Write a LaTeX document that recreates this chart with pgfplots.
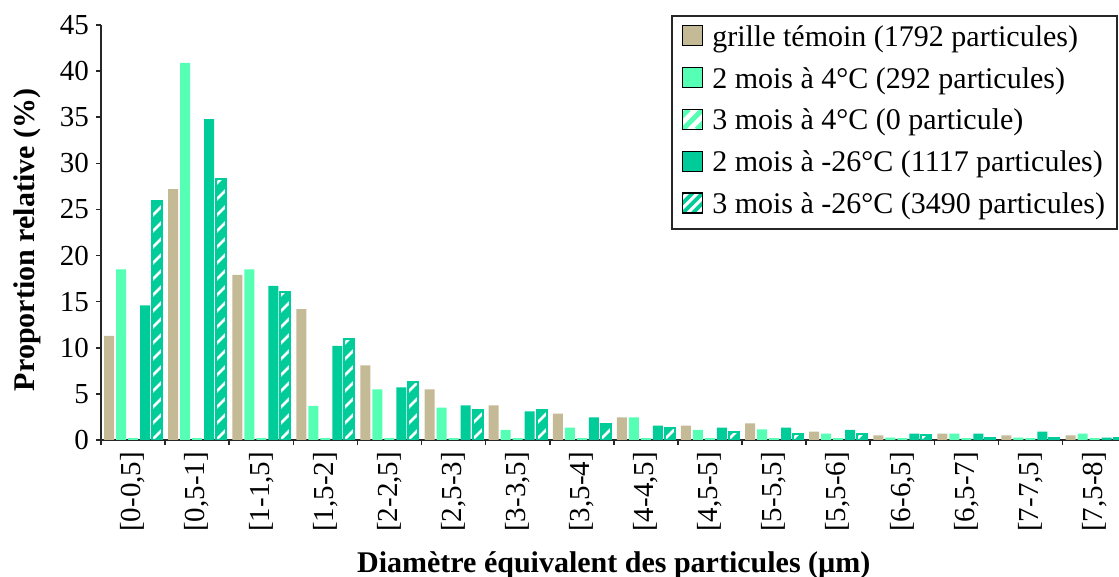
\documentclass[border=0pt]{standalone}
\usepackage{fontspec}
\setmainfont{Liberation Serif}
\usepackage{pgfplots}
\usepackage{pgfplotstable}
\pgfplotsset{compat=1.18}
\definecolor{tanc}{RGB}{196,186,150}
\definecolor{lgreen}{RGB}{85,255,180}
\definecolor{dgreen}{RGB}{0,204,153}

\pgfplotstableread{
x  t     l     z    d     h
0  11.3  18.5  0.2  14.6  25.9
1  27.2  40.9  0.2  34.8  28.3
2  17.9  18.5  0.2  16.7  16.1
3  14.2  3.7   0.2  10.2  10.9
4  8.1   5.5   0.2  5.7   6.3
5  5.5   3.5   0.2  3.75  3.25
6  3.75  1.1   0.2  3.1   3.3
7  2.85  1.35  0.2  2.45  1.75
8  2.45  2.45  0.2  1.55  1.35
9  1.55  1.1   0.2  1.35  0.9
10 1.8   1.15  0.2  1.35  0.7
11 0.9   0.7   0.2  1.1   0.7
12 0.5   0.25  0.2  0.7   0.5
13 0.7   0.7   0.2  0.7   0.25
14 0.5   0.25  0.2  0.9   0.25
15 0.5   0.7   0.2  0.25  0.25
}\data

\tikzset{
  hatchbar/.style={path picture={
    \pgfpointanchor{path picture bounding box}{south west}%
    \pgfgetlastxy{\hx}{\hy}%
    \pgfsetstrokecolor{white}\pgfsetlinewidth{1.3pt}%
    \foreach \k in {-560,-552,...,160} {%
      \pgfpathmoveto{\pgfpoint{\hx}{\hy+\k*1pt}}%
      \pgfpathlineto{\pgfpoint{\hx+560pt}{\hy+\k*1pt+560pt}}%
      \pgfusepath{stroke}%
    }}},
}
% legend swatch: white square with diagonal stripes of colour #1, width #2, spacing #3
\newcommand\legstripes[3]{%
  \pgfsetfillcolor{white}%
  \pgfpathrectangle{\pgfpoint{0pt}{-3.5pt}}{\pgfpoint{10pt}{10pt}}\pgfusepath{fill}%
  \begin{pgfscope}%
  \pgfpathrectangle{\pgfpoint{0pt}{-3.5pt}}{\pgfpoint{10pt}{10pt}}\pgfusepath{clip}%
  \pgfsetstrokecolor{#1}\pgfsetlinewidth{#2}%
  \foreach \k in {-3,...,3} {%
    \pgfpathmoveto{\pgfpoint{\k*#3}{-3.5pt}}%
    \pgfpathlineto{\pgfpoint{\k*#3+10pt}{6.5pt}}%
    \pgfusepath{stroke}}%
  \end{pgfscope}%
  \pgfsetstrokecolor{black}\pgfsetlinewidth{0.6pt}%
  \pgfpathrectangle{\pgfpoint{0pt}{-3.5pt}}{\pgfpoint{10pt}{10pt}}\pgfusepath{stroke}}

\begin{document}
\begin{tikzpicture}
\path[use as bounding box] (0,0) rectangle (559.5pt,288.5pt);
\begin{axis}[
  at={(50.5pt,68.5pt)}, anchor=south west,
  width=512.8pt, height=207.5pt, scale only axis,
  xmin=-0.5, xmax=15.5, ymin=0, ymax=45,
  axis x line=bottom, axis y line=left,
  axis line style={-, line width=0.9pt, black!85},
  tick align=outside, major tick length=2.5pt,
  tick style={line width=0.8pt, black!85},
  xtick={-0.5,0.5,...,15.5},
  x tick label as interval,
  xticklabels={{[0-0,5]},{[0,5-1]},{[1-1,5]},{[1,5-2]},{[2-2,5]},{[2,5-3]},{[3-3,5]},{[3,5-4]},{[4-4,5]},{[4,5-5]},{[5-5,5]},{[5,5-6]},{[6-6,5]},{[6,5-7]},{[7-7,5]},{[7,5-8]}},
  ytick={0,5,...,45},
  /pgf/number format/assume math mode=true,
  tick label style={font=\fontsize{14.5}{17}\selectfont},
  x tick label style={rotate=90, anchor=east},
  label style={font=\bfseries\fontsize{15}{18}\selectfont},
  xlabel={Diamètre équivalent des particules (µm)},
  ylabel={Proportion relative (\%)},
  xlabel style={at={(axis description cs:0.5,-0.301)}, anchor=center},
  ylabel style={at={(axis description cs:-0.0722,0.482)}, anchor=center},
  ybar=1pt, bar width=5pt,
  legend cell align=left,
  legend style={at={(0.9916,1.0241)}, anchor=north east, draw=black!85, line width=0.9pt,
    font=\fontsize{15}{18}\selectfont, row sep=4.4pt, inner xsep=5pt, inner ysep=3.2pt,
    nodes={inner sep=1pt, text height=11pt, text depth=3.5pt},
    /tikz/every odd column/.append style={column sep=3.5pt}},
]
\addplot[fill=tanc, draw=none,
  legend image code/.code={\draw[line width=0.6pt, black, fill=tanc] (0pt,-3.5pt) rectangle (10pt,6.5pt);}]
  table[x=x,y=t]{\data};
\addlegendentry{grille témoin (1792 particules)}
\addplot[fill=lgreen, draw=none,
  legend image code/.code={\draw[line width=0.6pt, black, fill=lgreen] (0pt,-3.5pt) rectangle (10pt,6.5pt);}]
  table[x=x,y=l]{\data};
\addlegendentry{2 mois à 4°C (292 particules)}
\addplot[fill=lgreen, draw=none,
  legend image code/.code={\legstripes{lgreen}{2.4pt}{7pt}}]
  table[x=x,y=z]{\data};
\addlegendentry{3 mois à 4°C (0 particule)}
\addplot[fill=dgreen, draw=none,
  legend image code/.code={\draw[line width=0.6pt, black, fill=dgreen] (0pt,-3.5pt) rectangle (10pt,6.5pt);}]
  table[x=x,y=d]{\data};
\addlegendentry{2 mois à -26°C (1117 particules)}
\addplot[fill=dgreen, draw=dgreen, line width=1pt, hatchbar,
  legend image code/.code={\legstripes{dgreen}{1.8pt}{5pt}}]
  table[x=x,y=h]{\data};
\addlegendentry{3 mois à -26°C (3490 particules)}
\end{axis}
\end{tikzpicture}
\end{document}
